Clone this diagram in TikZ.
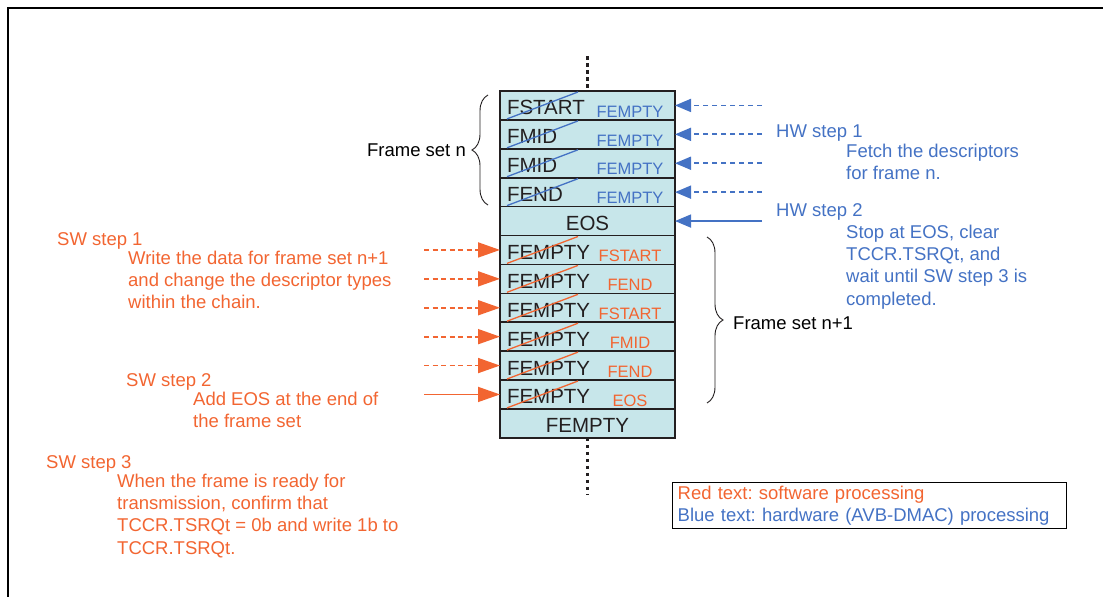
\documentclass[tikz,border=0pt]{standalone}
\usepackage{fontspec}
\setmainfont{Liberation Sans}
\usetikzlibrary{arrows.meta,positioning,calc,decorations.pathreplacing}

\definecolor{swred}{RGB}{242,101,49}
\definecolor{hwblue}{RGB}{68,114,196}
\definecolor{cellfill}{RGB}{199,230,234}
\definecolor{inktext}{RGB}{35,31,32}

\frenchspacing

\tikzset{
  cell/.style={rectangle, draw=inktext, line width=1.6pt, fill=cellfill,
    minimum width=175pt, minimum height=28.9pt, outer sep=0pt,
    inner xsep=7pt, inner ysep=0pt, text width=161pt, align=left,
    text height=19pt, text depth=0pt, text=inktext,
    font=\fontsize{20.5}{24}\selectfont},
  hwsmall/.style={inner sep=0pt, text=hwblue, font=\fontsize{16.5}{19}\selectfont},
  swsmall/.style={inner sep=0pt, text=swred, font=\fontsize{16.5}{19}\selectfont},
  hwstrike/.style={draw=hwblue, line width=1.3pt},
  swstrike/.style={draw=swred, line width=1.3pt},
  chaindots/.style={draw=inktext, line width=3.5pt, dash pattern=on 3.5pt off 3.5pt},
  hwdash/.style={draw=hwblue, line width=1.8pt, dash pattern=on 5pt off 4pt,
    -{Triangle[length=16pt,width=13pt]}},
  hwline/.style={draw=hwblue, line width=1.6pt, -{Triangle[length=16pt,width=13pt]}},
  swdash/.style={draw=swred, line width=1.8pt, dash pattern=on 5pt off 3.5pt,
    -{Triangle[length=22pt,width=15pt]}},
  swline/.style={draw=swred, line width=1.6pt, -{Triangle[length=22pt,width=15pt]}},
  fsbrace/.style={draw=inktext, line width=0.9pt, decorate,
    decoration={brace, amplitude=16pt}},
  hwtext/.style={inner sep=0pt, align=left, text=hwblue, font=\fontsize{18.5}{22.3}\selectfont},
  swtext/.style={inner sep=0pt, align=left, text=swred, font=\fontsize{18.5}{22.3}\selectfont},
  fstext/.style={inner sep=0pt, text=black, font=\fontsize{18.5}{22.3}\selectfont},
  legendbox/.style={draw=black, line width=1.4pt, text width=384pt, inner xsep=5pt,
    inner ysep=3pt, align=left, font=\fontsize{18.5}{22.3}\selectfont}
}

\begin{document}
\begin{tikzpicture}[x=1pt, y=-1pt]
    \useasboundingbox (0,0) rectangle (1103,597);
    \draw[line width=2pt] (8,597) -- (8,8) -- (1103,8);

    % descriptor chain
    \node[cell] (c1) at (587.5,105.45) {FSTART};
    \node[cell, below=0pt of c1] (c2) {FMID};
    \node[cell, below=0pt of c2] (c3) {FMID};
    \node[cell, below=0pt of c3] (c4) {FEND};
    \node[cell, below=0pt of c4, align=center] (c5) {EOS};
    \foreach \i/\j in {6/5,7/6,8/7,9/8,10/9,11/10}
        \node[cell, below=0pt of c\j] (c\i) {FEMPTY};
    \node[cell, below=0pt of c11, align=center] (c12) {FEMPTY};

    \coordinate (topdots) at (587.5,56);
    \coordinate (botdots) at (587.5,495);
    \draw[chaindots] (topdots) -- (c1.north);
    \draw[chaindots] (c12.south) -- (botdots);

    \foreach \i in {1,...,4} {
        \draw[hwstrike] ($(c\i.south west)+(7,-1)$) -- ($(c\i.north west)+(78,1)$);
        \node[hwsmall] (l\i) at ($(c\i)+(42.5,6)$) {FEMPTY};
    }
    \foreach \i/\t in {6/FSTART,7/FEND,8/FSTART,9/FMID,10/FEND,11/EOS} {
        \draw[swstrike] ($(c\i.south west)+(7,-1)$) -- ($(c\i.north west)+(78,1)$);
        \node[swsmall] (l\i) at ($(c\i)+(42.5,6)$) {\t};
    }

    % hardware side
    \foreach \i in {1,...,4} {
        \coordinate (hw\i) at ([xshift=87pt]c\i.east);
        \draw[hwdash] (hw\i) -- (c\i.east);
    }
    \coordinate (hw5) at ([xshift=87pt]c5.east);
    \draw[hwline] (hw5) -- (c5.east);

    \node[hwtext, anchor=base west] (hw1txt) at (776,137) {HW step 1};
    \node[hwtext, anchor=north west] (hw1body) at (846,143.6) {Fetch the descriptors\\for frame n.};
    \node[hwtext, anchor=base west] (hw2txt) at (776,216) {HW step 2};
    \node[hwtext, anchor=north west] (hw2body) at (846,224.6)
        {Stop at EOS, clear\\TCCR.TSRQt, and\\wait until SW step 3 is\\completed.};

    % software side
    \foreach \i in {6,...,10} {
        \coordinate (sw\i) at ([xshift=-76pt]c\i.west);
        \draw[swdash] (sw\i) -- (c\i.west);
    }
    \coordinate (sw11) at ([xshift=-76pt]c11.west);
    \draw[swline] (sw11) -- (c11.west);

    \node[swtext, anchor=base west] (sw1txt) at (57,245) {SW step 1};
    \node[swtext, anchor=north west] (sw1body) at (128,250.6)
        {Write the data for frame set n+1\\and change the descriptor types\\within the chain.};
    \node[swtext, anchor=base west] (sw2txt) at (126,386) {SW step 2};
    \node[swtext, anchor=north west] (sw2body) at (193,391.6) {Add EOS at the end of\\the frame set};
    \node[swtext, anchor=base west] (sw3txt) at (46,468) {SW step 3};
    \node[swtext, anchor=north west] (sw3body) at (117,473.6)
        {When the frame is ready for\\transmission, confirm that\\TCCR.TSRQt = 0b and write 1b to\\TCCR.TSRQt.};

    % frame sets
    \draw[fsbrace] (488,205) -- (488,95);
    \node[fstext, anchor=east] (fsn) at (466,150) {Frame set n};
    \draw[fsbrace] (707,237) -- (707,403);
    \node[fstext, anchor=west] (fsn1) at (733,323) {Frame set n+1};

    \node[legendbox, anchor=north west] (legend) at (672,482)
        {\textcolor{swred}{Red text: software processing}\\
         \textcolor{hwblue}{Blue text: hardware (AVB-DMAC) processing}};
\end{tikzpicture}
\end{document}
